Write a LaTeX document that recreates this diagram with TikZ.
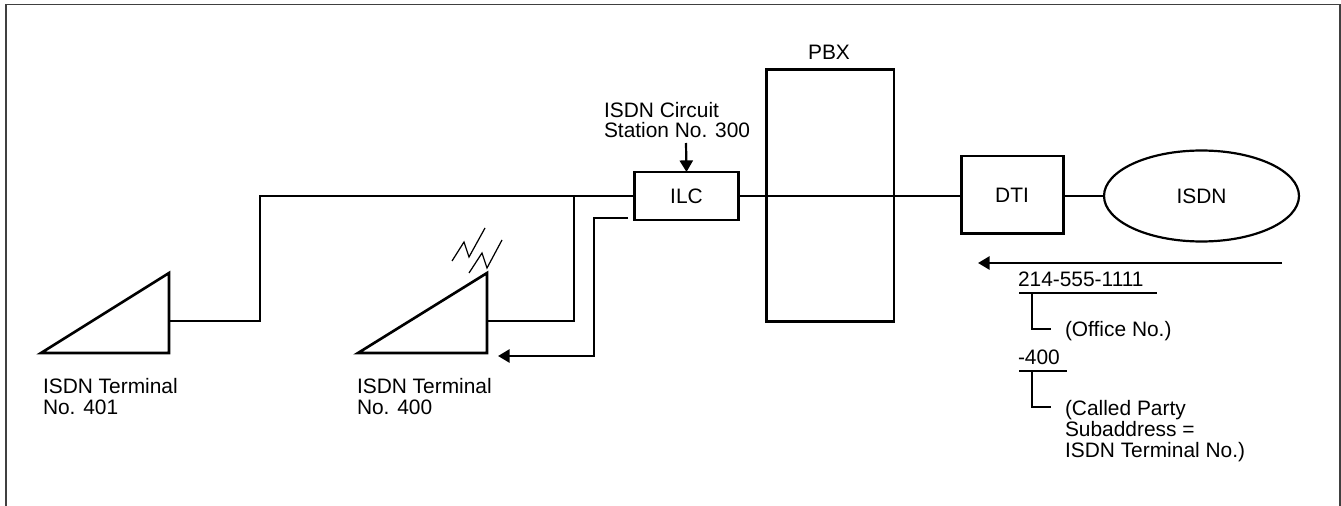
\documentclass[tikz,border=0pt]{standalone}
\usepackage{fontspec}
\setmainfont{Liberation Sans}
\usetikzlibrary{arrows.meta,shapes.geometric}
\tikzset{
  boxnode/.style={draw,line width=1.7pt,inner sep=0,outer sep=0},
  wire/.style={line width=1.25pt},
  pointer/.style={line width=1.25pt,-{Triangle[length=6.6pt,width=7.5pt]}},
  terminal/.style={line width=1.5pt,line join=miter},
  label/.style={inner sep=0,outer sep=0,anchor=base west,align=left}
}
\begin{document}
\begin{tikzpicture}[x=0.02cm,y=-0.02cm,every node/.style={font=\fontsize{11.9}{11.9}\selectfont}]
\useasboundingbox (0,0) rectangle (1341,506);
\draw[black!75,line width=0.7pt] (6,506) -- (6,4.5) -- (1340,4.5) -- (1340,506);
% boxes
\node[boxnode,minimum width=2.07cm,minimum height=0.96cm] (ilc) at (686.5,196) {ILC};
\node[boxnode,minimum width=2.56cm,minimum height=5.06cm] (pbx) at (830,195.5) {};
\node[boxnode,minimum width=2.04cm,minimum height=1.56cm] (dti) at (1012,195) {DTI};
\node[draw,ellipse,line width=1.25pt,inner sep=0,outer sep=0,minimum width=3.9cm,minimum height=1.82cm] (isdn) at (1201.5,196) {ISDN};
\node[inner sep=0] (pbxlabel) at (829,52) {PBX};
% terminals
\coordinate (t401) at (169,321);
\coordinate (t400) at (487,321);
\draw[terminal] (41,353) -- (169,353) -- (169,273) -- cycle;
\draw[terminal] (358,353) -- (487,353) -- (487,273) -- cycle;
\draw[line width=0.7pt] (452,261) -- (464,242) -- (469,257) -- (485,228);
\draw[line width=0.7pt] (469,273) -- (482,253) -- (487,268) -- (502,240);
% lines
\draw[wire] (t401) -| (260,196) -- (ilc.west);
\draw[wire] (t400) -| (574,196);
\draw[wire] (ilc.east) -- (dti.west |- ilc.east);
\draw[wire] (dti.east |- isdn.west) -- (isdn.west);
% arrows
\coordinate (stationtop) at (686,143);
\coordinate (backstart) at (628,218);
\coordinate (backend) at (498,356);
\coordinate (callstart) at (1282,263);
\coordinate (callend) at (978,263);
\draw[pointer] (stationtop) -- (ilc.north);
\draw[pointer] (backstart) -- (594,218) |- (backend);
\draw[pointer] (callstart) -- (callend);
% number labels
\node[label] (office) at (1018,287) {214-555-1111};
\node[label] (officetext) at (1065,337) {(Office No.)};
\node[label] (sub) at (1018,364) {-400};
\node[label] (subtext) at (1065,457) {(Called Party\\Subaddress =\\ISDN Terminal No.)};
\draw[wire] (1019,293) -- (1157,293);
\draw[wire] (1032,293) |- (1051,329);
\draw[wire] (1019,371) -- (1067,371);
\draw[wire] (1032,371) |- (1051,407);
% other labels
\node[label] (station) at (604,138) {ISDN Circuit\\Station No. 300};
\node[label] (label401) at (43,414) {ISDN Terminal\\No. 401};
\node[label] (label400) at (357,414) {ISDN Terminal\\No. 400};
\end{tikzpicture}
\end{document}
